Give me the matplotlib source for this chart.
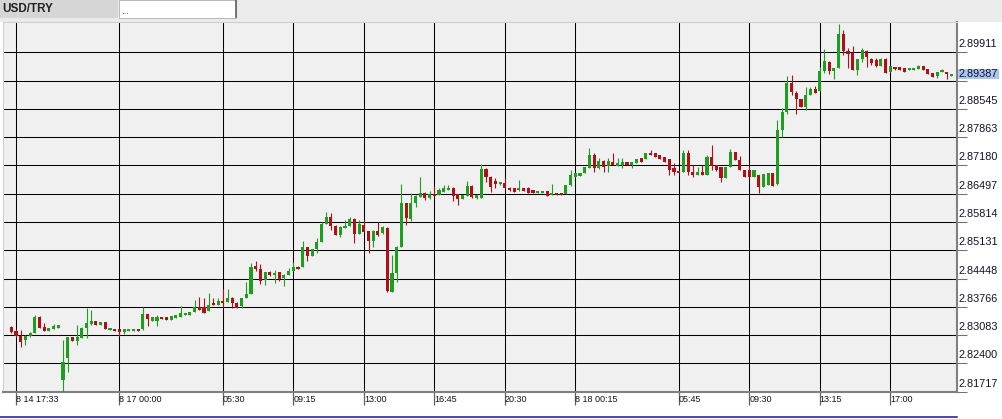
import numpy as np
import matplotlib.pyplot as plt
from matplotlib import transforms
from matplotlib.patches import Rectangle

# USD/TRY, 15 minute candles
opens = [
    2.83277, 2.83181, 2.83060, 2.82963, 2.83060, 2.83133, 2.83519, 2.83277, 2.83181, 2.83229,
    2.83253, 2.81997, 2.82528, 2.83036, 2.82939, 2.83012, 2.83253, 2.83349, 2.83422, 2.83325,
    2.83398, 2.83205, 2.83229, 2.83229, 2.83157, 2.83181, 2.83181, 2.83229, 2.83229, 2.83591,
    2.83422, 2.83422, 2.83519, 2.83519, 2.83446, 2.83494, 2.83519, 2.83567, 2.83567, 2.83640,
    2.83760, 2.83760, 2.83664, 2.83857, 2.83808, 2.83905, 2.83881, 2.83978, 2.83857, 2.83784,
    2.83978, 2.84074, 2.84750, 2.84678, 2.84412, 2.84606, 2.84533, 2.84606, 2.84461, 2.84533,
    2.84630, 2.84726, 2.84726, 2.85209, 2.84992, 2.85161, 2.85330, 2.85764, 2.85933, 2.85716,
    2.85499, 2.85668, 2.85716, 2.85885, 2.85523, 2.85740, 2.85596, 2.85354, 2.85596, 2.85547,
    2.85668, 2.84123, 2.84582, 2.85209, 2.86272, 2.85885, 2.86272, 2.86417, 2.86513, 2.86393,
    2.86489, 2.86465, 2.86538, 2.86586, 2.86634, 2.86489, 2.86369, 2.86441, 2.86682, 2.86393,
    2.86393, 2.87093, 2.86899, 2.86803, 2.86731, 2.86755, 2.86634, 2.86634, 2.86586, 2.86634,
    2.86634, 2.86586, 2.86513, 2.86513, 2.86562, 2.86465, 2.86513, 2.86513, 2.86489, 2.86706,
    2.86899, 2.86924, 2.86996, 2.87117, 2.87431, 2.87117, 2.87286, 2.87165, 2.87262, 2.87165,
    2.87189, 2.87262, 2.87189, 2.87238, 2.87358, 2.87334, 2.87479, 2.87479, 2.87431, 2.87383,
    2.87334, 2.87117, 2.87045, 2.87020, 2.87479, 2.87020, 2.86948, 2.87020, 2.86948, 2.87383,
    2.87189, 2.87141, 2.86875, 2.87141, 2.87503, 2.87310, 2.87069, 2.87069, 2.86899, 2.86948,
    2.86658, 2.86706, 2.86996, 2.86731, 2.88035, 2.88469, 2.89170, 2.88928, 2.88783, 2.88590,
    2.88880, 2.89025, 2.88976, 2.89460, 2.89677, 2.89460, 2.89532, 2.90353, 2.89942, 2.89894,
    2.89484, 2.89749, 2.89942, 2.89749, 2.89725, 2.89580, 2.89749, 2.89435, 2.89556, 2.89556,
    2.89532, 2.89484, 2.89484, 2.89508, 2.89580, 2.89508, 2.89411, 2.89339, 2.89435, 2.89435,
    2.89339,
]
highs = [
    2.83301, 2.83229, 2.83205, 2.83084, 2.83157, 2.83567, 2.83543, 2.83374, 2.83253, 2.83349,
    2.83325, 2.82963, 2.83036, 2.83036, 2.83325, 2.83277, 2.83736, 2.83688, 2.83422, 2.83398,
    2.83398, 2.83229, 2.83229, 2.83229, 2.83229, 2.83229, 2.83229, 2.83229, 2.83760, 2.83591,
    2.83519, 2.83567, 2.83519, 2.83519, 2.83543, 2.83567, 2.83784, 2.83615, 2.83640, 2.83929,
    2.84002, 2.83978, 2.84099, 2.83978, 2.83978, 2.84195, 2.84195, 2.84002, 2.83881, 2.83978,
    2.84364, 2.84823, 2.84871, 2.84799, 2.84606, 2.84630, 2.84654, 2.84606, 2.84557, 2.84702,
    2.84847, 2.84750, 2.85354, 2.85209, 2.85161, 2.85426, 2.85813, 2.86055, 2.86031, 2.85740,
    2.85716, 2.85861, 2.85933, 2.85909, 2.85861, 2.85861, 2.85596, 2.85620, 2.85813, 2.85716,
    2.85692, 2.85016, 2.85233, 2.86731, 2.86272, 2.86513, 2.86465, 2.86899, 2.86538, 2.86562,
    2.86682, 2.86634, 2.86706, 2.86706, 2.86658, 2.86489, 2.86465, 2.86803, 2.86706, 2.86489,
    2.87214, 2.87117, 2.86924, 2.86875, 2.86779, 2.86875, 2.86658, 2.86634, 2.86827, 2.86634,
    2.86658, 2.86586, 2.86538, 2.86562, 2.86562, 2.86731, 2.86513, 2.86513, 2.86706, 2.87069,
    2.86996, 2.86996, 2.87141, 2.87600, 2.87479, 2.87358, 2.87310, 2.87358, 2.87479, 2.87358,
    2.87358, 2.87262, 2.87262, 2.87334, 2.87358, 2.87479, 2.87552, 2.87479, 2.87431, 2.87383,
    2.87334, 2.87238, 2.87045, 2.87552, 2.87552, 2.87189, 2.87141, 2.87189, 2.87431, 2.87672,
    2.87189, 2.87141, 2.87141, 2.87576, 2.87503, 2.87407, 2.87069, 2.87165, 2.87069, 2.86948,
    2.86972, 2.86996, 2.86996, 2.88276, 2.88566, 2.89339, 2.89363, 2.88976, 2.88783, 2.89073,
    2.89073, 2.89097, 2.89556, 2.89991, 2.89701, 2.89532, 2.90594, 2.90450, 2.90015, 2.90063,
    2.89749, 2.90015, 2.89967, 2.89773, 2.89773, 2.89773, 2.89773, 2.89580, 2.89556, 2.89556,
    2.89532, 2.89532, 2.89532, 2.89604, 2.89580, 2.89508, 2.89411, 2.89435, 2.89508, 2.89435,
    2.89387,
]
lows = [
    2.83133, 2.83036, 2.82794, 2.82842, 2.83036, 2.83133, 2.83253, 2.83181, 2.83181, 2.83229,
    2.83253, 2.81708, 2.82191, 2.82939, 2.82842, 2.83012, 2.83012, 2.83325, 2.83325, 2.83325,
    2.83229, 2.83205, 2.83181, 2.83060, 2.83108, 2.83181, 2.83181, 2.83181, 2.83205, 2.83301,
    2.83422, 2.83301, 2.83470, 2.83446, 2.83446, 2.83494, 2.83519, 2.83567, 2.83567, 2.83640,
    2.83688, 2.83615, 2.83664, 2.83808, 2.83808, 2.83760, 2.83881, 2.83736, 2.83736, 2.83736,
    2.83978, 2.84074, 2.84630, 2.84315, 2.84291, 2.84509, 2.84340, 2.84388, 2.84267, 2.84533,
    2.84630, 2.84678, 2.84726, 2.84871, 2.84992, 2.85064, 2.85330, 2.85764, 2.85620, 2.85499,
    2.85450, 2.85668, 2.85716, 2.85306, 2.85523, 2.85571, 2.85064, 2.85209, 2.85475, 2.85523,
    2.84123, 2.84123, 2.84364, 2.85209, 2.85740, 2.85837, 2.86175, 2.86417, 2.86344, 2.86369,
    2.86441, 2.86465, 2.86538, 2.86586, 2.86320, 2.86223, 2.86369, 2.86441, 2.86393, 2.86369,
    2.86393, 2.86779, 2.86538, 2.86634, 2.86706, 2.86634, 2.86562, 2.86538, 2.86562, 2.86562,
    2.86513, 2.86513, 2.86513, 2.86513, 2.86441, 2.86465, 2.86465, 2.86465, 2.86489, 2.86682,
    2.86899, 2.86924, 2.86996, 2.87117, 2.87020, 2.87093, 2.87020, 2.87020, 2.87189, 2.87165,
    2.87117, 2.87189, 2.87117, 2.87238, 2.87262, 2.87334, 2.87431, 2.87383, 2.87334, 2.87262,
    2.86948, 2.86948, 2.86996, 2.87020, 2.86948, 2.86899, 2.86948, 2.86948, 2.86948, 2.87069,
    2.87045, 2.86779, 2.86875, 2.87141, 2.87310, 2.87069, 2.86899, 2.86899, 2.86899, 2.86513,
    2.86658, 2.86706, 2.86682, 2.86706, 2.87866, 2.88421, 2.88880, 2.88421, 2.88590, 2.88518,
    2.88880, 2.88928, 2.88976, 2.89411, 2.89387, 2.89266, 2.89532, 2.89846, 2.89532, 2.89484,
    2.89363, 2.89677, 2.89556, 2.89604, 2.89556, 2.89580, 2.89411, 2.89435, 2.89484, 2.89484,
    2.89435, 2.89484, 2.89484, 2.89508, 2.89484, 2.89387, 2.89314, 2.89290, 2.89435, 2.89266,
    2.89339,
]
closes = [
    2.83157, 2.83060, 2.82915, 2.83060, 2.83133, 2.83519, 2.83253, 2.83181, 2.83253, 2.83301,
    2.83325, 2.82432, 2.83036, 2.82939, 2.83036, 2.83253, 2.83374, 2.83422, 2.83325, 2.83398,
    2.83229, 2.83229, 2.83181, 2.83157, 2.83229, 2.83229, 2.83229, 2.83181, 2.83591, 2.83470,
    2.83519, 2.83519, 2.83470, 2.83446, 2.83543, 2.83567, 2.83615, 2.83615, 2.83640, 2.83760,
    2.83688, 2.83615, 2.83808, 2.83808, 2.83905, 2.83857, 2.83978, 2.83857, 2.83736, 2.83978,
    2.84074, 2.84726, 2.84678, 2.84388, 2.84606, 2.84533, 2.84582, 2.84437, 2.84533, 2.84630,
    2.84726, 2.84678, 2.85209, 2.84992, 2.85161, 2.85330, 2.85764, 2.85933, 2.85716, 2.85499,
    2.85692, 2.85716, 2.85885, 2.85523, 2.85764, 2.85571, 2.85354, 2.85596, 2.85499, 2.85692,
    2.84147, 2.84582, 2.85209, 2.86272, 2.85909, 2.86272, 2.86441, 2.86513, 2.86393, 2.86489,
    2.86441, 2.86586, 2.86634, 2.86634, 2.86441, 2.86369, 2.86465, 2.86682, 2.86417, 2.86465,
    2.87093, 2.86899, 2.86658, 2.86731, 2.86755, 2.86634, 2.86586, 2.86538, 2.86634, 2.86562,
    2.86513, 2.86513, 2.86538, 2.86562, 2.86441, 2.86513, 2.86465, 2.86465, 2.86706, 2.86948,
    2.86996, 2.86996, 2.87141, 2.87431, 2.87117, 2.87286, 2.87141, 2.87286, 2.87189, 2.87238,
    2.87262, 2.87189, 2.87262, 2.87334, 2.87262, 2.87479, 2.87431, 2.87383, 2.87334, 2.87262,
    2.87069, 2.87020, 2.86996, 2.87479, 2.87020, 2.86948, 2.87020, 2.86948, 2.87383, 2.87165,
    2.87069, 2.86875, 2.87141, 2.87503, 2.87310, 2.87069, 2.86899, 2.86899, 2.87069, 2.86658,
    2.86972, 2.86996, 2.86682, 2.88035, 2.88469, 2.89170, 2.88952, 2.88783, 2.88590, 2.88880,
    2.89025, 2.88928, 2.89460, 2.89701, 2.89460, 2.89532, 2.90353, 2.89942, 2.89870, 2.89484,
    2.89749, 2.89967, 2.89798, 2.89653, 2.89580, 2.89749, 2.89411, 2.89580, 2.89508, 2.89484,
    2.89435, 2.89532, 2.89532, 2.89580, 2.89484, 2.89387, 2.89314, 2.89435, 2.89484, 2.89387,
    2.89387,
]

tick_pos = [1, 23, 45, 60, 75, 90, 105, 120, 142, 157, 172, 187]
tick_labels = ["8 14 17:33", "8 17 00:00", "05:30", "09:15", "13:00", "16:45",
               "20:30", "8 18 00:15", "05:45", "09:30", "13:15", "17:00"]
price_levels = [2.89911, 2.89228, 2.88545, 2.87863, 2.87180, 2.86497, 2.85814,
                2.85131, 2.84448, 2.83766, 2.83083, 2.82400, 2.81717]
price_labels = ["2.89911", "", "2.88545", "2.87863", "2.87180", "2.86497", "2.85814",
                "2.85131", "2.84448", "2.83766", "2.83083", "2.82400", "2.81717"]
last_price = 2.89387

green = '#1e9e1e'
red = '#b00f18'
font = 'Liberation Sans'

fig = plt.figure(figsize=(10.02, 4.19), dpi=100)
fig.patch.set_facecolor('white')

# background layer in pixel coordinates (header tabs, bottom line)
bg = fig.add_axes([0, 0, 1, 1])
bg.set_xlim(0, 1002)
bg.set_ylim(419, 0)
bg.axis('off')
bg.add_patch(Rectangle((0, 0), 1002, 22, color='#ebebeb', lw=0))
bg.add_patch(Rectangle((0, 0), 118, 18, color='#d6d6d6', lw=0))
bg.add_patch(Rectangle((119, 0), 117, 18, facecolor='white', edgecolor='#b8b8b8', lw=0.7))
bg.plot([236, 236], [0, 17], color='#606060', lw=1.2)
bg.text(2, 9, "USD/TRY", fontsize=8.4, fontweight='bold', color='#222222',
        family=font, va='center', ha='left')
bg.text(121, 11, "...", fontsize=7, color='#333333', family=font, va='center', ha='left')
bg.plot([0, 957], [417, 417], color='#1515a0', lw=1.1)

# main chart
ax = fig.add_axes([3 / 1002, 27 / 419, 954 / 1002, 370 / 419])
ax.set_facecolor('#f0f0f0')
ax.set_xlim(-1.77, 201.2)
ax.set_ylim(2.81708, 2.90643)

for v in tick_pos:
    ax.axvline(v, color='black', lw=0.75, zorder=1)
for p in price_levels:
    ax.axhline(p, color='black', lw=0.75, zorder=1)

o = np.array(opens)
h = np.array(highs)
l = np.array(lows)
c = np.array(closes)
idx = np.arange(len(o))
cols = np.where(c >= o, green, red)

ax.vlines(idx, l, h, colors=cols, lw=0.8, zorder=3)
body_low = np.minimum(o, c)
body_h = np.maximum(np.abs(c - o), 0.00045)
ax.bar(idx, body_h, bottom=body_low, width=0.66, color=cols, lw=0, zorder=4)

for side in ['top', 'left']:
    ax.spines[side].set_color('#cfcfcf')
    ax.spines[side].set_linewidth(0.8)
for side in ['right', 'bottom']:
    ax.spines[side].set_color('#808080')
    ax.spines[side].set_linewidth(1.5)

ax.yaxis.tick_right()
ax.set_yticks(price_levels)
ax.set_xticks(tick_pos)
ax.tick_params(axis='y', length=7, width=0.75, color='#707070', direction='out',
               labelright=False, labelleft=False)
ax.tick_params(axis='x', length=9, width=0.9, color='#606060', direction='out',
               labelbottom=False)

ytrans = transforms.offset_copy(ax.get_yaxis_transform(), fig=fig, x=2, y=8, units='dots')
for p, lbl in zip(price_levels, price_labels):
    if lbl:
        ax.text(1.0, p, lbl, transform=ytrans, fontsize=7.8, family=font,
                color='#101028', ha='left', va='center', clip_on=False)

# current price marker
ptr = ax.get_yaxis_transform()
ax.add_patch(Rectangle((1.0015, last_price - 0.00125), 0.0425, 0.0025, transform=ptr,
                       facecolor='#a9c6f0', edgecolor='none', clip_on=False, zorder=5))
ax.text(1.0, last_price, "2.89387",
        transform=transforms.offset_copy(ptr, fig=fig, x=2, y=0, units='dots'),
        fontsize=7.8, family=font, color='#101028', ha='left', va='center',
        clip_on=False, zorder=6)

xtrans = transforms.offset_copy(ax.get_xaxis_transform(), fig=fig, x=0, y=-7, units='dots')
for v, lbl in zip(tick_pos, tick_labels):
    ax.text(v, 0, lbl, transform=xtrans, fontsize=6.5, family=font, color='#101028',
            ha='left', va='center', clip_on=False)

fig.savefig('out.png', dpi=100)
